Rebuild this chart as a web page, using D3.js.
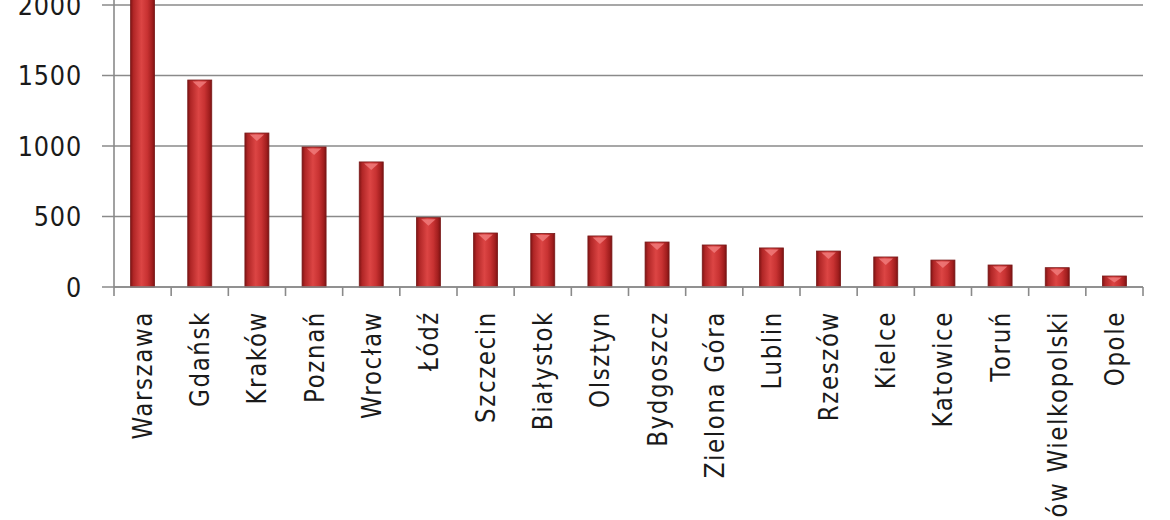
<!DOCTYPE html>
<html><head><meta charset="utf-8">
<script src="https://cdn.jsdelivr.net/npm/d3@7"></script>
<style>html,body{margin:0;padding:0;background:#fff;overflow:hidden}</style>
</head><body>
<svg id="c" width="1170" height="520"></svg>
<script>
const categories = ["Warszawa","Gdańsk","Kraków","Poznań","Wrocław","Łódź","Szczecin","Białystok","Olsztyn","Bydgoszcz","Zielona Góra","Lublin","Rzeszów","Kielce","Katowice","Toruń","Gorzów Wielkopolski","Opole"];
const values = [2300,1468,1092,993,887,492,383,380,362,319,298,277,255,213,191,156,137,78];
const yTicks = [0,500,1000,1500,2000];

const svg = d3.select("#c");
const x0 = 114, x1 = 1143, yBase = 287, yTop = 5;
const x = d3.scaleBand().domain(categories).range([x0, x1]).paddingInner(0.58).paddingOuter(0.29);
const y = d3.scaleLinear().domain([0, 2000]).range([yBase, yTop]);

const defs = svg.append("defs");
const g = defs.append("linearGradient").attr("id","bar").attr("x1","0").attr("x2","1").attr("y1","0").attr("y2","0");
[[0,"#7e1414"],[0.12,"#b02626"],[0.45,"#dc4544"],[0.7,"#c83232"],[0.9,"#a11e1e"],[1,"#7a1313"]].forEach(s=>g.append("stop").attr("offset",s[0]).attr("stop-color",s[1]));

// gridlines
svg.append("g").selectAll("line").data(yTicks).join("line")
  .attr("x1", x0-12).attr("x2", x1).attr("y1", d=>y(d)).attr("y2", d=>y(d))
  .attr("stroke","#8a8a8a").attr("stroke-width",1.6);

// y labels
svg.append("g").selectAll("text").data(yTicks).join("text")
  .attr("transform", d=>`translate(82,${y(d)}) scale(1,1.12)`)
  .attr("dy","0.36em").attr("text-anchor","end")
  .attr("font-family","DejaVu Sans, Verdana, sans-serif").attr("font-size",24).attr("letter-spacing",0.8).attr("fill","#1a1a1a")
  .text(d=>d);

// bars
const bars = svg.append("g");
bars.selectAll("rect").data(values).join("rect")
  .attr("x",(d,i)=>x(categories[i])).attr("width",x.bandwidth())
  .attr("y",d=>y(d)).attr("height",d=>yBase-y(d))
  .attr("fill","url(#bar)").attr("stroke","#7a1a1a").attr("stroke-width",0.8);
bars.selectAll("path").data(values).join("path")
  .attr("d",(d,i)=>{const bx=x(categories[i]), w=x.bandwidth(), ty=y(d);
     return `M${bx+w*0.2},${ty+1.5} L${bx+w*0.8},${ty+1.5} L${bx+w*0.5},${ty+Math.min(8,(yBase-ty)*0.6)} Z`;})
  .attr("fill","#f07a7a").attr("opacity",0.85);

// axes lines
svg.append("line").attr("x1",x0).attr("x2",x0).attr("y1",0).attr("y2",yBase).attr("stroke","#8a8a8a").attr("stroke-width",1.6);
svg.append("line").attr("x1",x0).attr("x2",x1).attr("y1",yBase).attr("y2",yBase).attr("stroke","#8a8a8a").attr("stroke-width",1.6);
const tickX = categories.map(c=>x(c)-x.step()*x.paddingInner()/2).concat([x1]);
svg.append("g").selectAll("line").data(tickX).join("line")
  .attr("x1",d=>d).attr("x2",d=>d).attr("y1",yBase).attr("y2",yBase+9)
  .attr("stroke","#8a8a8a").attr("stroke-width",1.6);

// x labels
svg.append("g").selectAll("text").data(categories).join("text")
  .attr("transform",d=>`translate(${x(d)+x.bandwidth()/2},${yBase+24}) rotate(-90) scale(1,1.15)`)
  .attr("dy","0.36em").attr("text-anchor","end")
  .attr("font-family","DejaVu Sans, Verdana, sans-serif").attr("font-size",23).attr("letter-spacing",1.6).attr("fill","#1a1a1a")
  .text(d=>d);
</script>
</body></html>
